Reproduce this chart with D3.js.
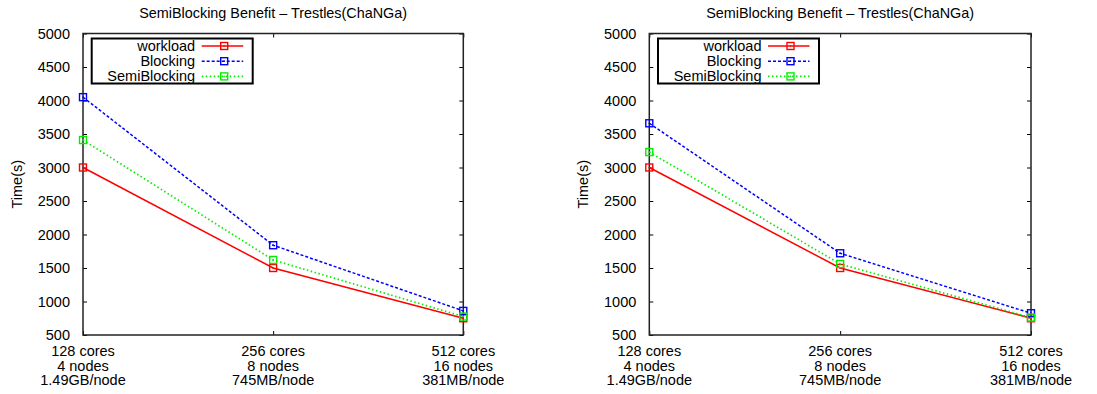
<!DOCTYPE html>
<html><head><meta charset="utf-8">
<script src="https://cdn.jsdelivr.net/npm/d3@7"></script>
<style>
body{margin:0;background:#fff;}
text{font-family:"Liberation Sans",Arial,sans-serif;fill:#000;}
</style></head>
<body>
<svg id="chart" width="1097" height="394"></svg>
<script>
const categories = [
  ["128 cores","4 nodes","1.49GB/node"],
  ["256 cores","8 nodes","745MB/node"],
  ["512 cores","16 nodes","381MB/node"]
];
const yTicks = [500,1000,1500,2000,2500,3000,3500,4000,4500,5000];
const seriesNames = ["workload","Blocking","SemiBlocking"];
const titleText = "SemiBlocking Benefit \u2013 Trestles(ChaNGa)";
const yLabel = "Time(s)";
// Left panel
const leftWorkload = [3000,1500,750];
const leftBlocking = [4050,1840,860];
const leftSemi = [3410,1620,775];
// Right panel
const rightWorkload = [3000,1500,750];
const rightBlocking = [3660,1720,825];
const rightSemi = [3230,1560,760];

const styles = [
  {color:"#ff0000", dash:null, width:1.5},
  {color:"#0000ff", dash:"3,2", width:1.5},
  {color:"#00ee00", dash:"1.5,2.5", width:1.7}
];

const FS = "14.5px";
const svg = d3.select("#chart");

function panel(x0, x1, series){
  const top = 33.5, bottom = 335;
  const x = d3.scalePoint().domain(d3.range(categories.length)).range([x0,x1]);
  const y = d3.scaleLinear().domain([500,5000]).range([bottom,top]);
  const g = svg.append("g");

  g.append("text").attr("x",(x0+x1)/2).attr("y",18).attr("text-anchor","middle")
    .style("font-size","14.4px").text(titleText);
  g.append("text").attr("transform",`translate(${x0-66},${(top+bottom)/2}) rotate(-90)`)
    .attr("text-anchor","middle").attr("dominant-baseline","central")
    .style("font-size",FS).text(yLabel);

  const yAxisL = d3.axisLeft(y).tickValues(yTicks).tickSize(-4).tickPadding(13).tickFormat(d3.format("d"));
  const ya = g.append("g").attr("transform",`translate(${x0},0)`).call(yAxisL);
  ya.select(".domain").remove();
  ya.selectAll("text").style("font-size",FS).style("font-family","Liberation Sans, Arial, sans-serif");
  ya.selectAll("line").attr("stroke","#000").attr("stroke-width",1);
  const yAxisR = d3.axisRight(y).tickValues(yTicks).tickSize(-4).tickFormat("");
  const yr = g.append("g").attr("transform",`translate(${x1},0)`).call(yAxisR);
  yr.select(".domain").remove();
  yr.selectAll("line").attr("stroke","#000").attr("stroke-width",1);

  const xAxisB = d3.axisBottom(x).tickSize(-4).tickFormat("");
  const xb = g.append("g").attr("transform",`translate(0,${bottom})`).call(xAxisB);
  xb.select(".domain").remove();
  xb.selectAll("line").attr("stroke","#000").attr("stroke-width",1);
  const xAxisT = d3.axisTop(x).tickSize(-4).tickFormat("");
  const xt = g.append("g").attr("transform",`translate(0,${top})`).call(xAxisT);
  xt.select(".domain").remove();
  xt.selectAll("line").attr("stroke","#000").attr("stroke-width",1);

  categories.forEach((lines,i)=>{
    const t = g.append("text").attr("text-anchor","middle").style("font-size",FS);
    lines.forEach((ln,j)=>{
      t.append("tspan").attr("x",x(i)).attr("y",356+j*14.6).text(ln);
    });
  });

  g.append("rect").attr("x",x0).attr("y",top).attr("width",x1-x0).attr("height",bottom-top)
    .attr("fill","none").attr("stroke","#222").attr("stroke-width",1.5);

  const line = d3.line().x((d,i)=>x(i)).y(d=>y(d));
  series.forEach((vals,k)=>{
    const st = styles[k];
    g.append("path").datum(vals).attr("d",line).attr("fill","none")
      .attr("stroke",st.color).attr("stroke-width",st.width)
      .attr("stroke-dasharray",st.dash);
  });
  series.forEach((vals,k)=>{
    const st = styles[k];
    vals.forEach((v,i)=>{ marker(g, x(i), y(v), st.color); });
  });

  const lx = x0+8.7, ly = 38.5, lw = 161, lh = 45;
  g.append("rect").attr("x",lx).attr("y",ly).attr("width",lw).attr("height",lh)
    .attr("fill","#fff").attr("stroke","#000").attr("stroke-width",2);
  seriesNames.forEach((nm,k)=>{
    const st = styles[k];
    const cy = ly+7.5+k*15.2;
    g.append("text").attr("x",lx+103.5).attr("y",cy).attr("text-anchor","end")
      .attr("dominant-baseline","central").style("font-size",FS).text(nm);
    g.append("line").attr("x1",lx+110).attr("x2",lx+151.5).attr("y1",cy).attr("y2",cy)
      .attr("stroke",st.color).attr("stroke-width",st.width).attr("stroke-dasharray",st.dash);
    marker(g, lx+132.5, cy, st.color);
  });
}

function marker(g, cx, cy, color){
  g.append("rect").attr("x",cx-3.5).attr("y",cy-3.5).attr("width",7).attr("height",7)
    .attr("fill","none").attr("stroke",color).attr("stroke-width",1.4);
  g.append("rect").attr("x",cx-0.7).attr("y",cy-0.7).attr("width",1.4).attr("height",1.4)
    .attr("fill",color);
}

panel(83, 463.3, [leftWorkload, leftBlocking, leftSemi]);
panel(649.3, 1031, [rightWorkload, rightBlocking, rightSemi]);
</script>
</body></html>
